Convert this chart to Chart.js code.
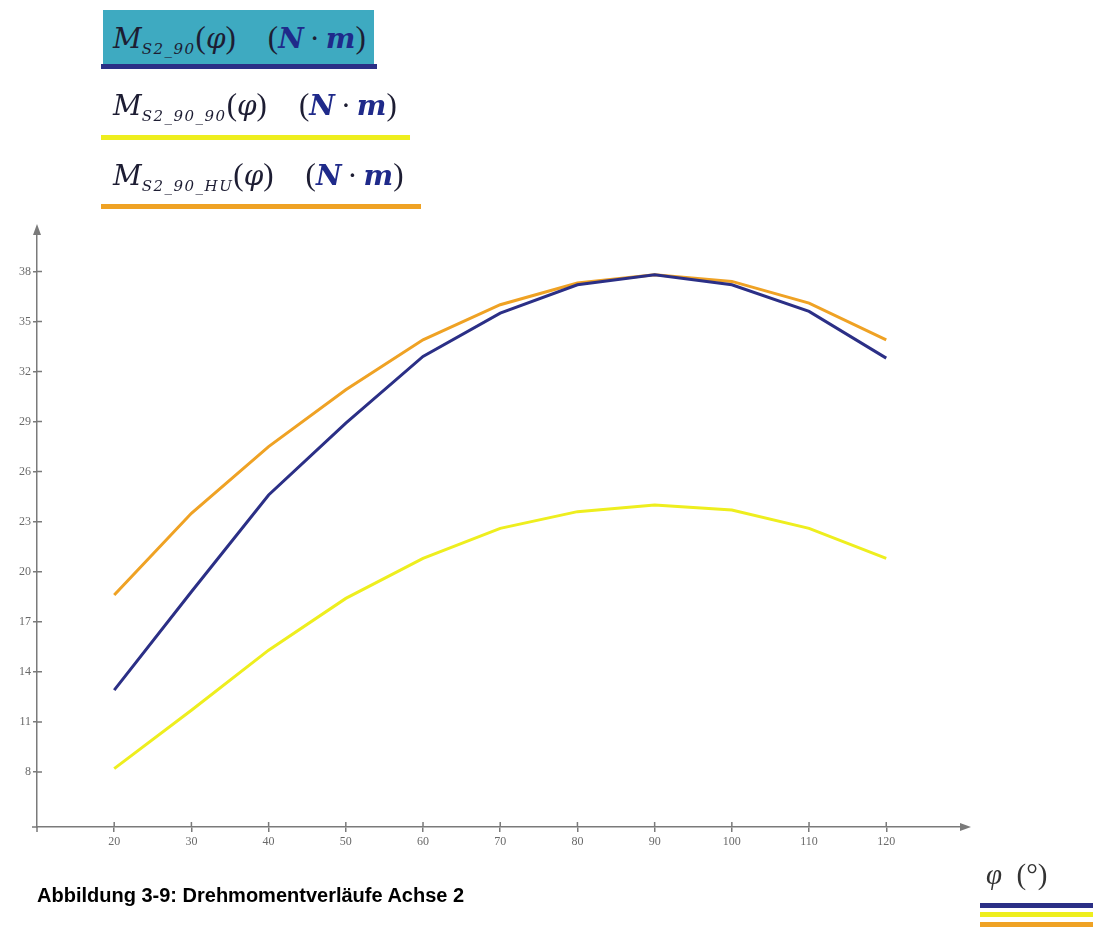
<!DOCTYPE html>
<html>
<head>
<meta charset="utf-8">
<script src="https://cdn.jsdelivr.net/npm/chart.js@4/dist/chart.umd.min.js"></script>
<style>
  html, body { margin: 0; padding: 0; background: #fff; }
  body { width: 1093px; height: 931px; position: relative; overflow: hidden; }
  #wrap { position: absolute; left: 0; top: 0; width: 1093px; height: 931px; }
  .leg { position: absolute; left: 101px; font-family: "DejaVu Serif", "Liberation Serif", serif; color: #1d1d33; white-space: nowrap; }
  .leg .txt { position: absolute; left: 12px; font-size: 28px; font-style: italic; }
  .leg sub { font-size: 15px; vertical-align: -6px; letter-spacing: 1.5px; }
  .leg .u { font-style: italic; font-weight: bold; color: #1f2a8a; }
  .leg .p { font-style: normal; font-family: "Liberation Serif", serif; font-size: 31px; }
  .leg .g { display: inline-block; width: 32px; }
  .leg .d { display: inline-block; width: 22px; text-align: center; font-style: normal; }
  .bar { position: absolute; left: 0; height: 5px; }
  #cap { position: absolute; left: 37px; top: 884px; font-family: "Liberation Sans", Arial, sans-serif; font-weight: bold; font-size: 20px; color: #000; }
  #xl { position: absolute; left: 986px; top: 858px; font-family: "Liberation Serif", serif; font-size: 29px; color: #333; }
  .rb { position: absolute; left: 980px; width: 113px; height: 5px; }
</style>
</head>
<body>
<div id="wrap"><canvas id="c" width="1093" height="931"></canvas></div>

<div class="leg" style="top:10px; width:276px; height:59px;">
  <div style="position:absolute; left:2px; top:0; width:271px; height:54px; background:#3eaac1;"></div>
  <div class="txt" style="top:10px;">M<sub>S2_90</sub><span class="p">(</span>φ<span class="p">)</span><span class="g"></span><span class="p">(</span><span class="u">N</span><span class="d">·</span><span class="u">m</span><span class="p">)</span></div>
  <div class="bar" style="top:54px; width:276px; background:#2b2f86;"></div>
</div>
<div class="leg" style="top:86px; width:309px; height:55px;">
  <div class="txt" style="top:1px;">M<sub>S2_90_90</sub><span class="p">(</span>φ<span class="p">)</span><span class="g"></span><span class="p">(</span><span class="u">N</span><span class="d">·</span><span class="u">m</span><span class="p">)</span></div>
  <div class="bar" style="top:49px; width:309px; background:#eeee1e;"></div>
</div>
<div class="leg" style="top:156px; width:320px; height:55px;">
  <div class="txt" style="top:1px;">M<sub>S2_90_HU</sub><span class="p">(</span>φ<span class="p">)</span><span class="g"></span><span class="p">(</span><span class="u">N</span><span class="d">·</span><span class="u">m</span><span class="p">)</span></div>
  <div class="bar" style="top:48px; width:320px; background:#efa224;"></div>
</div>

<div id="cap">Abbildung 3-9: Drehmomentverläufe Achse 2</div>
<div id="xl"><i>φ</i>&nbsp;&nbsp;(°)</div>
<div class="rb" style="top:903px; background:#2b2f86;"></div>
<div class="rb" style="top:912px; background:#eeee1e;"></div>
<div class="rb" style="top:922px; background:#efa224;"></div>

<script>
// angle phi in degrees
var phi = [20, 30, 40, 50, 60, 70, 80, 90, 100, 110, 120];
// torque curves (N*m)
var mS2_90 = [12.9, 18.8, 24.6, 28.9, 32.9, 35.5, 37.2, 37.8, 37.2, 35.6, 32.8];
var mS2_90_90 = [8.2, 11.7, 15.3, 18.4, 20.8, 22.6, 23.6, 24.0, 23.7, 22.6, 20.8];
var mS2_90_HU = [18.6, 23.5, 27.5, 30.9, 33.9, 36.0, 37.3, 37.8, 37.4, 36.1, 33.9];
// axis tick labels
var xTicks = [20, 30, 40, 50, 60, 70, 80, 90, 100, 110, 120];
var yTicks = [8, 11, 14, 17, 20, 23, 26, 29, 32, 35, 38];

function pts(ys) {
  return phi.map(function (p, i) { return { x: p, y: ys[i] }; });
}

var axisGray = '#7a7a7a';

// crossing tick marks and arrow heads like the original plot
var axisDeco = {
  id: 'axisDeco',
  afterDraw: function (chart) {
    var ctx = chart.ctx;
    var a = chart.chartArea;
    var x = chart.scales.x, y = chart.scales.y;
    ctx.save();
    ctx.strokeStyle = axisGray;
    ctx.fillStyle = axisGray;
    ctx.lineWidth = 1.5;
    ctx.beginPath();
    x.ticks.forEach(function (t) {
      var px = x.getPixelForValue(t.value);
      ctx.moveTo(px, a.bottom);
      ctx.lineTo(px, a.bottom - 5);
    });
    y.ticks.forEach(function (t) {
      var py = y.getPixelForValue(t.value);
      ctx.moveTo(a.left, py);
      ctx.lineTo(a.left + 5, py);
    });
    // short overhang past the origin
    ctx.moveTo(a.left - 5, a.bottom);
    ctx.lineTo(a.left, a.bottom);
    ctx.moveTo(a.left, a.bottom);
    ctx.lineTo(a.left, a.bottom + 5);
    ctx.stroke();
    // arrows
    ctx.beginPath();
    ctx.moveTo(a.right + 6, a.bottom);
    ctx.lineTo(a.right - 5, a.bottom - 4);
    ctx.lineTo(a.right - 5, a.bottom + 4);
    ctx.closePath();
    ctx.moveTo(a.left, a.top - 4);
    ctx.lineTo(a.left - 4, a.top + 7);
    ctx.lineTo(a.left + 4, a.top + 7);
    ctx.closePath();
    ctx.fill();
    ctx.restore();
  }
};

var tickFont = { family: '"Liberation Serif", "DejaVu Serif", serif', size: 12 };

new Chart(document.getElementById('c'), {
  type: 'line',
  data: {
    datasets: [
      { label: 'M_S2_90', data: pts(mS2_90), borderColor: '#2b2f86', borderWidth: 3 },
      { label: 'M_S2_90_90', data: pts(mS2_90_90), borderColor: '#eeee1e', borderWidth: 3 },
      { label: 'M_S2_90_HU', data: pts(mS2_90_HU), borderColor: '#efa224', borderWidth: 3 }
    ]
  },
  options: {
    responsive: false,
    animation: false,
    events: [],
    elements: { point: { radius: 0 }, line: { tension: 0, fill: false } },
    layout: { padding: { top: 228, right: 128, bottom: 0, left: 0 } },
    plugins: { legend: { display: false }, tooltip: { enabled: false } },
    scales: {
      x: {
        type: 'linear',
        min: 10,
        max: 130.2,
        afterFit: function (s) { s.height = 104; },
        afterBuildTicks: function (s) { s.ticks = xTicks.map(function (v) { return { value: v }; }); },
        grid: { display: true, drawOnChartArea: false, drawTicks: true, tickLength: 5, color: axisGray, lineWidth: 1.5 },
        border: { display: true, color: axisGray, width: 1.5 },
        ticks: { color: '#6a6a6a', font: tickFont, padding: 3, maxRotation: 0 }
      },
      y: {
        type: 'linear',
        min: 4.7,
        max: 40.6,
        afterFit: function (s) { s.width = 37; },
        afterBuildTicks: function (s) { s.ticks = yTicks.map(function (v) { return { value: v }; }); },
        grid: { display: true, drawOnChartArea: false, drawTicks: true, tickLength: 4, color: axisGray, lineWidth: 1.5 },
        border: { display: true, color: axisGray, width: 1.5 },
        ticks: { color: '#6a6a6a', font: tickFont, padding: 2 }
      }
    }
  },
  plugins: [axisDeco]
});
</script>
</body>
</html>
